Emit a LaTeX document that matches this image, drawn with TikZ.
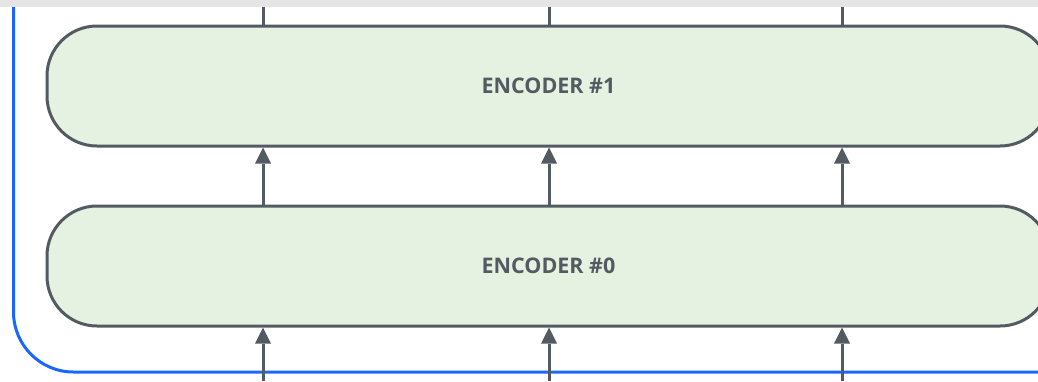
\documentclass[tikz,border=0pt]{standalone}
\usepackage{fontspec}
\setmainfont{Open Sans}
\usetikzlibrary{arrows.meta}
\definecolor{ink}{HTML}{545A62}
\definecolor{encfill}{HTML}{E6F2E1}
\definecolor{rail}{HTML}{1A66FF}
\definecolor{band}{HTML}{E5E5E5}
\begin{document}
\begin{tikzpicture}[x=1pt,y=-1pt,
  encoder/.style={draw=ink, line width=3pt, fill=encfill, rounded corners=50pt,
    minimum width=1003pt, minimum height=120pt, inner sep=0pt, text=ink,
    font=\fontsize{21.5}{25}\selectfont\bfseries},
  flow/.style={draw=ink, line width=3pt},
  arr/.style={flow, -{Triangle[length=16pt,width=16pt,line width=0pt]}}]
\useasboundingbox (0,0) rectangle (1038,381);
% outer rail framing the stack
\draw[rail, line width=3pt, rounded corners=60pt] (13.5,-5) -- (13.5,372) -- (1045,372);
% encoder layers
\node[encoder] (enc1) at (548.5,86) {ENCODER \#1};
\node[encoder] (enc0) at (548.5,266) {ENCODER \#0};
% data flow through the stack
\foreach \x [count=\i] in {263,549,842} {
  \coordinate (top\i) at (\x,0);
  \coordinate (bot\i) at (\x,381);
  \draw[flow] (enc1.north -| top\i) -- (top\i);
  \draw[arr] (enc0.north -| top\i) -- (enc1.south -| top\i);
  \draw[arr] (bot\i) -- (enc0.south -| bot\i);
}
% top strip
\fill[band] (0,0) rectangle (1038,7);
\end{tikzpicture}
\end{document}
